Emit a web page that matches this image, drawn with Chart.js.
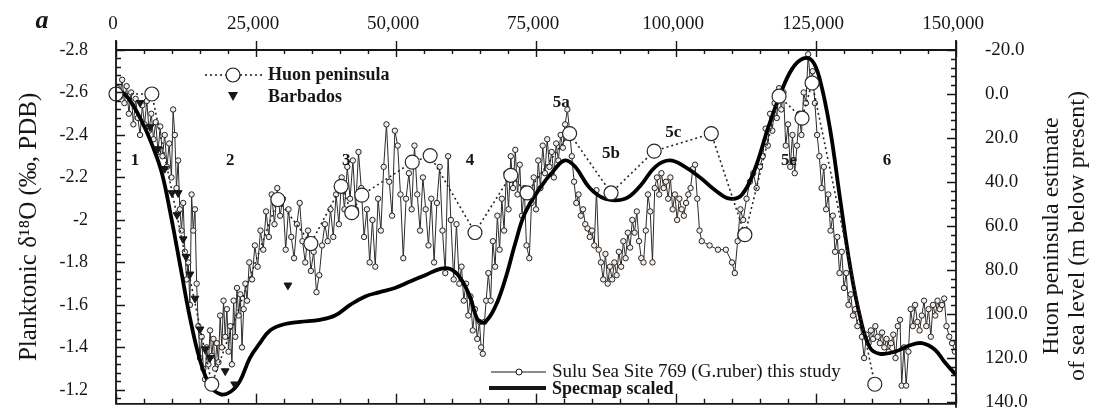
<!DOCTYPE html>
<html>
<head>
<meta charset="utf-8">
<script src="https://cdn.jsdelivr.net/npm/chart.js@4.4.0/dist/chart.umd.min.js"></script>
<style>
  html, body { margin: 0; padding: 0; background: #fff; }
</style>
</head>
<body>
<canvas id="c" width="1096" height="412"></canvas>
<script>
// tick values
const ageTicks = [0, 25000, 50000, 75000, 100000, 125000, 150000];
const d18oTicks = [-2.8, -2.6, -2.4, -2.2, -2, -1.8, -1.6, -1.4, -1.2];
const levelTicks = [-20, 0, 20, 40, 60, 80, 100, 120, 140];

// Sulu Sea Site 769 (G.ruber): [age, d18O]
const sulu = [
  [300,-2.62],[700,-2.58],[1100,-2.66],[1500,-2.55],[1900,-2.63],[2300,-2.50],[2700,-2.60],
  [3100,-2.45],[3500,-2.57],[3900,-2.48],[4300,-2.40],[4700,-2.54],[5100,-2.45],[5500,-2.56],
  [5900,-2.42],[6300,-2.50],[6700,-2.38],[7100,-2.46],[7500,-2.32],[7900,-2.44],[8300,-2.30],
  [8700,-2.40],[9100,-2.25],[9500,-2.36],[9900,-2.20],[10200,-2.52],[10500,-2.40],[10800,-2.15],
  [11100,-2.28],[11400,-2.05],[11700,-1.95],[12000,-2.08],[12300,-1.85],[12600,-1.72],[12900,-1.80],
  [13200,-1.60],[13500,-2.12],[13800,-1.95],[14100,-2.05],[14400,-1.70],[14700,-1.50],
  [15000,-1.35],[15300,-1.45],[15600,-1.30],[15900,-1.25],[16200,-1.40],[16500,-1.32],[16800,-1.48],
  [17100,-1.36],[17400,-1.44],[17700,-1.30],[18000,-1.42],[18300,-1.33],[18600,-1.55],[18900,-1.40],
  [19200,-1.62],[19500,-1.45],[19800,-1.58],[20100,-1.38],[20400,-1.50],[20700,-1.32],[21000,-1.62],
  [21300,-1.45],[21600,-1.68],[21900,-1.55],[22200,-1.65],[22500,-1.40],[22800,-1.58],[23100,-1.70],
  [23400,-1.62],[23800,-1.80],[24300,-1.72],[24800,-1.88],[25300,-1.78],[25800,-1.95],[26300,-1.86],
  [26800,-2.04],[27300,-1.92],[27800,-2.12],[28300,-1.98],[28800,-2.15],[29300,-2.02],[29800,-2.10],
  [30300,-1.86],[30800,-2.05],[31300,-1.92],[31800,-1.82],[32300,-1.98],[32800,-2.08],[33300,-1.90],
  [33800,-1.80],[34300,-1.95],[34800,-1.76],[35300,-1.85],[35800,-1.66],[36300,-1.74],[36800,-1.88],
  [37300,-1.98],[37800,-1.90],[38300,-2.05],[38800,-1.92],[39300,-2.12],[39800,-1.98],[40300,-2.20],
  [40800,-2.05],[41300,-2.25],[41800,-2.10],[42300,-2.28],[42800,-2.05],[43300,-2.32],[43800,-2.15],
  [44300,-1.92],[44800,-2.05],[45300,-1.80],[45800,-2.00],[46300,-1.78],[46800,-2.10],[47300,-1.95],
  [47800,-2.25],[48300,-2.45],[48800,-2.18],[49300,-2.02],[49800,-2.42],[50300,-2.35],[50800,-2.12],
  [51300,-1.82],[51800,-2.10],[52300,-2.22],[52800,-2.05],[53300,-2.35],[53800,-2.12],[54300,-1.95],
  [54800,-2.20],[55300,-2.05],[55800,-1.88],[56300,-2.10],[56800,-1.80],[57300,-2.08],[57800,-2.25],
  [58300,-1.95],[58800,-1.75],[59300,-2.30],[59800,-2.00],[60300,-1.72],[60800,-1.98],[61300,-1.70],
  [61700,-1.78],[62100,-1.62],[62500,-1.70],[62900,-1.55],[63300,-1.64],[63700,-1.48],[64100,-1.58],
  [64500,-1.44],[64900,-1.52],[65200,-1.40],[65500,-1.37],[65800,-1.52],[66100,-1.62],[66500,-1.75],
  [66900,-1.62],[67300,-1.90],[67700,-1.78],[68100,-2.02],[68500,-1.86],[68900,-2.10],[69300,-1.95],
  [69700,-2.22],[70100,-2.05],[70500,-2.30],[70900,-2.15],[71300,-2.33],[71700,-2.12],[72100,-2.26],
  [72500,-2.02],[72900,-2.15],[73300,-1.88],[73800,-1.82],[74200,-2.08],[74600,-2.20],[75000,-2.05],
  [75400,-2.28],[75800,-2.15],[76200,-2.35],[76600,-2.22],[77000,-2.38],[77400,-2.25],[77800,-2.32],
  [78200,-2.20],[78600,-2.36],[79000,-2.28],[79400,-2.40],[79800,-2.34],[80200,-2.45],[80600,-2.52],
  [81000,-2.42],[81400,-2.30],[81800,-2.18],[82200,-2.08],[82600,-2.12],[83000,-2.02],[83400,-2.05],
  [83800,-1.98],[84200,-1.96],[84600,-1.92],[85000,-1.95],[85400,-1.88],[85800,-2.14],[86200,-1.86],
  [86600,-1.80],[87000,-1.72],[87400,-1.84],[87800,-1.70],[88200,-1.78],[88600,-1.72],[89000,-1.80],
  [89400,-1.74],[89800,-1.85],[90200,-1.78],[90600,-1.90],[91000,-1.82],[91400,-1.94],[91800,-1.87],
  [92200,-2.00],[92600,-1.94],[93000,-2.04],[93400,-1.90],[93800,-1.82],[94200,-1.80],[94600,-1.95],
  [95000,-2.12],[95400,-2.04],[95800,-1.80],[96200,-2.15],[96600,-2.20],[97000,-2.12],[97400,-2.22],
  [97800,-2.15],[98200,-2.18],[98600,-2.10],[99000,-2.20],[99400,-2.05],[99800,-2.12],[100200,-2.00],
  [100600,-2.10],[101000,-2.05],[101400,-2.02],[101800,-2.08],[102200,-2.12],[102600,-2.15],[103000,-2.24],
  [103400,-2.26],[103800,-2.10],[104200,-1.95],[104600,-1.90],[106000,-1.88],[107500,-1.86],[108900,-1.86],
  [110000,-1.80],[110500,-1.75],[111000,-1.90],[111500,-2.05],[112000,-2.00],[112600,-2.10],[113200,-2.18],
  [113800,-2.22],[114400,-2.15],[115000,-2.25],[115500,-2.30],[116000,-2.43],[116400,-2.35],[116800,-2.50],
  [117200,-2.42],[117600,-2.55],[118000,-2.48],[118400,-2.62],[118800,-2.52],[119200,-2.60],[119600,-2.35],
  [120000,-2.45],[120400,-2.25],[120800,-2.40],[121200,-2.22],[121600,-2.35],[122000,-2.50],[122400,-2.40],
  [122800,-2.60],[123200,-2.55],[123600,-2.78],[124000,-2.65],[124400,-2.70],[124800,-2.55],[125200,-2.40],
  [125600,-2.30],[126000,-2.15],[126400,-2.25],[126800,-2.05],[127200,-2.12],[127600,-1.95],[128000,-2.02],
  [128400,-1.85],[128800,-1.92],[129200,-1.75],[129600,-1.85],[130000,-1.68],[130400,-1.75],[130800,-1.60],
  [131200,-1.65],[131600,-1.55],[132000,-1.58],[132400,-1.50],[132800,-1.52],[133200,-1.45],[133600,-1.35],
  [134000,-1.46],[134400,-1.42],[134800,-1.48],[135200,-1.44],[135600,-1.50],[136000,-1.45],[136400,-1.42],
  [136800,-1.47],[137200,-1.40],[137600,-1.44],[138000,-1.38],[138400,-1.42],[138800,-1.46],[139200,-1.35],
  [139600,-1.50],[140000,-1.53],[140300,-1.22],[140700,-1.40],[141100,-1.22],[141500,-1.38],[141900,-1.58],
  [142300,-1.50],[142700,-1.60],[143100,-1.52],[143500,-1.48],[143900,-1.55],[144300,-1.62],[144700,-1.50],
  [145100,-1.58],[145500,-1.45],[145900,-1.60],[146300,-1.55],[146700,-1.62],[147100,-1.58],[147500,-1.60],
  [147900,-1.63],[148300,-1.50],[148800,-1.45],[149300,-1.42],[149800,-1.38]
];

// Specmap scaled: [age, d18O]
const specmap = [
  [0,-2.62],[2000,-2.58],[4500,-2.47],[6500,-2.35],[8200,-2.22],[9800,-2.02],[11500,-1.78],
  [13200,-1.54],[15000,-1.34],[16800,-1.22],[18600,-1.18],[20400,-1.19],[22100,-1.24],[23900,-1.35],
  [25700,-1.42],[27500,-1.48],[30200,-1.51],[32900,-1.52],[36400,-1.53],[39100,-1.55],[41800,-1.60],
  [44500,-1.64],[47100,-1.66],[49800,-1.68],[52500,-1.71],[55200,-1.74],[57900,-1.77],[59600,-1.77],
  [61400,-1.73],[63200,-1.64],[64600,-1.53],[65900,-1.52],[67700,-1.59],[69500,-1.72],[71300,-1.89],
  [73000,-2.03],[75700,-2.15],[78400,-2.24],[80200,-2.28],[82000,-2.25],[84600,-2.15],[87300,-2.10],
  [90900,-2.10],[93600,-2.16],[96300,-2.25],[98900,-2.28],[101600,-2.25],[104300,-2.20],[107000,-2.14],
  [109600,-2.10],[111800,-2.12],[114100,-2.24],[116400,-2.43],[118600,-2.59],[120700,-2.71],[122700,-2.76],
  [124300,-2.75],[125700,-2.66],[127500,-2.43],[129300,-2.10],[131100,-1.78],[132900,-1.54],[134600,-1.40],
  [136400,-1.37],[139100,-1.38],[141800,-1.41],[143900,-1.42],[146200,-1.39],[148000,-1.33],[150000,-1.27]
];

// Huon peninsula sea level (m below present): [age, level]
const huon = [
  [0,0],[6400,0],[17100,132],[28900,48],[34800,68],[40200,42],[42100,54],[43900,46],
  [52900,31],[56100,28],[64100,63],[70500,37],[73400,45],[81000,18],[88400,45],[96100,26],
  [106300,18],[112300,64],[118400,1],[122500,11],[124300,-5],[135500,132]
];

// Barbados sea level: [age, level]
const barbados = [
  [4300,4],[6100,15],[7500,25],[8700,34],[10000,45],[11100,45],[10900,55],[12000,66],[12500,74],
  [13200,82],[14100,93],[15000,107],[15900,116],[16800,120],[19500,126],[21200,132],[30700,87]
];

// isotope stage labels
const stageNames = ['1', '2', '3', '4', '5a', '5b', '5c', '5e', '6'];
const stageAges = [3400, 20400, 41100, 63200, 79500, 88400, 99500, 120200, 137700];
const stageD18O = [-2.28, -2.28, -2.28, -2.28, -2.55, -2.31, -2.41, -2.28, -2.28];

const SERIF = '"Liberation Serif", "Times New Roman", serif';
const INK = '#161616';

const toXY = arr => arr.map(p => ({ x: p[0], y: p[1] }));
const fixTicks = list => scale => { scale.ticks = list.map(v => ({ value: v })); };
// 軸の幅を固定し、ラベル分の余白を無効にする
const fixWidth = w => scale => { scale.width = w; scale.paddingTop = 0; scale.paddingBottom = 0; };

// 枠線・目盛り・凡例・注記
const decorations = {
  id: 'decorations',
  afterDraw(chart) {
    const { ctx, chartArea: a, scales } = chart;
    const sx = scales.x, sl = scales.y, sr = scales.y2;
    ctx.save();
    ctx.strokeStyle = INK;
    ctx.fillStyle = INK;

    // frame
    ctx.lineWidth = 1.8;
    ctx.beginPath();
    ctx.moveTo(a.left, a.top - 10); ctx.lineTo(a.left, a.bottom + 1);
    ctx.moveTo(a.left, a.bottom); ctx.lineTo(a.right, a.bottom);
    ctx.moveTo(a.right, a.top - 10); ctx.lineTo(a.right, a.bottom + 4);
    ctx.moveTo(a.left, a.top); ctx.lineTo(a.right, a.top);
    ctx.stroke();

    // ticks
    ctx.lineWidth = 1.4;
    ctx.beginPath();
    for (let v = 0; v <= 150000; v += 5000) {
      const px = Math.round(sx.getPixelForValue(v)) + 0.5;
      const major = v % 25000 === 0;
      ctx.moveTo(px, major ? a.top - 9 : a.top);
      ctx.lineTo(px, a.top + (major ? 7 : 4));
      ctx.moveTo(px, a.bottom);
      ctx.lineTo(px, a.bottom - (major ? 10 : 5));
    }
    for (let i = 0; i * 0.04 <= 1.66; i++) {
      const py = Math.round(sl.getPixelForValue(-2.8 + i * 0.04)) + 0.5;
      ctx.moveTo(a.left, py);
      ctx.lineTo(a.left + (i % 5 === 0 ? 9 : 5), py);
    }
    for (let v = -20; v <= 140; v += 4) {
      const py = Math.round(sr.getPixelForValue(v)) + 0.5;
      ctx.moveTo(a.right, py);
      ctx.lineTo(a.right - ((v + 20) % 20 === 0 ? 9 : 5), py);
    }
    ctx.stroke();

    // top axis labels
    ctx.textAlign = 'center';
    ctx.textBaseline = 'middle';
    ctx.font = '19px ' + SERIF;
    ageTicks.forEach(v => {
      ctx.fillText(v.toLocaleString('en-US'), sx.getPixelForValue(v) - 3, 24);
    });

    // panel letter
    ctx.font = 'italic bold 26px ' + SERIF;
    ctx.fillText('a', 42, 21);

    // stage labels
    ctx.font = 'bold 17px ' + SERIF;
    stageNames.forEach((s, i) => {
      ctx.fillText(s, sx.getPixelForValue(stageAges[i]), sl.getPixelForValue(stageD18O[i]));
    });

    // right axis title
    ctx.save();
    ctx.font = '24px ' + SERIF;
    ctx.translate(1052, 236);
    ctx.rotate(-Math.PI / 2);
    ctx.fillText('Huon peninsula estimate', 0, 0);
    ctx.fillText('of sea level (m below present)', 0, 26);
    ctx.restore();

    // legend (top left)
    ctx.textAlign = 'left';
    ctx.lineWidth = 1.6;
    ctx.setLineDash([2, 3]);
    ctx.beginPath();
    ctx.moveTo(205, 75); ctx.lineTo(262, 75);
    ctx.stroke();
    ctx.setLineDash([]);
    ctx.lineWidth = 1.2;
    ctx.fillStyle = '#fff';
    ctx.beginPath();
    ctx.arc(233, 75, 7, 0, Math.PI * 2);
    ctx.fill(); ctx.stroke();
    ctx.fillStyle = INK;
    ctx.beginPath();
    ctx.moveTo(228, 92); ctx.lineTo(238, 92); ctx.lineTo(233, 101); ctx.closePath();
    ctx.fill();
    ctx.font = 'bold 18px ' + SERIF;
    ctx.fillText('Huon peninsula', 268, 75);
    ctx.fillText('Barbados', 268, 97);

    // legend (bottom right)
    ctx.lineWidth = 1;
    ctx.beginPath();
    ctx.moveTo(491, 372); ctx.lineTo(546, 372);
    ctx.stroke();
    ctx.fillStyle = '#fff';
    ctx.beginPath();
    ctx.arc(519, 372, 3, 0, Math.PI * 2);
    ctx.fill(); ctx.stroke();
    ctx.lineWidth = 4;
    ctx.beginPath();
    ctx.moveTo(489, 388); ctx.lineTo(546, 388);
    ctx.stroke();
    ctx.fillStyle = INK;
    ctx.font = '19px ' + SERIF;
    ctx.fillText('Sulu Sea Site 769 (G.ruber) this study', 552, 372);
    ctx.font = 'bold 18px ' + SERIF;
    ctx.fillText('Specmap scaled', 552, 389);

    ctx.restore();
  }
};

new Chart(document.getElementById('c'), {
  type: 'scatter',
  data: {
    datasets: [
      {
        label: 'Huon peninsula',
        data: toXY(huon),
        yAxisID: 'y2',
        showLine: true,
        clip: false,
        borderColor: '#262626',
        borderWidth: 1.6,
        borderDash: [2, 3],
        pointRadius: 7,
        pointBorderWidth: 1.2,
        pointBackgroundColor: '#fff',
        pointBorderColor: '#262626',
        order: 0
      },
      {
        label: 'Barbados',
        data: toXY(barbados),
        yAxisID: 'y2',
        showLine: false,
        pointStyle: 'triangle',
        rotation: 180,
        pointRadius: 4.5,
        pointBackgroundColor: INK,
        pointBorderColor: INK,
        order: 1
      },
      {
        label: 'Specmap scaled',
        data: toXY(specmap),
        yAxisID: 'y',
        showLine: true,
        borderColor: '#000',
        borderWidth: 3.8,
        pointRadius: 0,
        tension: 0.4,
        order: 2
      },
      {
        label: 'Sulu Sea Site 769 (G.ruber) this study',
        data: toXY(sulu),
        yAxisID: 'y',
        showLine: true,
        borderColor: '#2b2b2b',
        borderWidth: 1,
        pointRadius: 2.7,
        pointBorderWidth: 1,
        pointBackgroundColor: '#f6ece6',
        pointBorderColor: '#222',
        order: 3
      }
    ]
  },
  options: {
    responsive: false,
    animation: false,
    layout: { padding: { left: 0, right: 0, top: 50, bottom: 6 } },
    plugins: { legend: { display: false }, tooltip: { enabled: false } },
    scales: {
      x: {
        type: 'linear',
        position: 'top',
        min: 0,
        max: 150000,
        afterBuildTicks: fixTicks(ageTicks),
        grid: { display: false, drawTicks: false },
        border: { display: false },
        ticks: { display: false }
      },
      y: {
        type: 'linear',
        position: 'left',
        reverse: true,
        min: -2.8,
        max: -1.1345,
        afterBuildTicks: fixTicks(d18oTicks),
        afterFit: fixWidth(116),
        grid: { display: false, drawTicks: false },
        border: { display: false },
        ticks: {
          padding: 28,
          color: INK,
          font: { family: SERIF, size: 18 },
          callback: v => String(Math.round(v * 10) / 10)
        },
        title: {
          display: true,
          text: 'Planktonic δ¹⁸O (‰, PDB)',
          color: INK,
          font: { family: SERIF, size: 25 },
          padding: { top: 14, bottom: 0 }
        }
      },
      y2: {
        type: 'linear',
        position: 'right',
        reverse: true,
        min: -20,
        max: 140.9,
        afterBuildTicks: fixTicks(levelTicks),
        afterFit: fixWidth(140),
        grid: { display: false, drawTicks: false },
        border: { display: false },
        ticks: {
          padding: 29,
          color: INK,
          font: { family: SERIF, size: 19 },
          callback: v => v.toFixed(1)
        }
      }
    }
  },
  plugins: [decorations]
});
</script>
</body>
</html>
